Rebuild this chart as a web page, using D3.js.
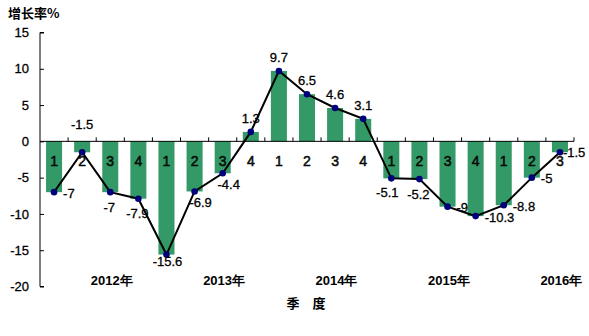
<!DOCTYPE html>
<html>
<head>
<meta charset="utf-8">
<script src="https://cdn.jsdelivr.net/npm/d3@7"></script>
<style>
  html, body { margin: 0; padding: 0; background: #fff; }
  svg { display: block; font-family: "Liberation Sans", Arial, sans-serif; }
  .num { stroke: #000; stroke-width: 0.3px; }
</style>
</head>
<body>
<svg id="chart" width="589" height="336"></svg>
<script>
// Quarterly growth rate (%), 2012 Q1 – 2016 Q3
const years = ["2012年", "2013年", "2014年", "2015年", "2016年"];
const quarters = ["1","2","3","4", "1","2","3","4", "1","2","3","4", "1","2","3","4", "1","2","3"];
const growth = [-7, -1.5, -7, -7.9, -15.6, -6.9, -4.4, 1.3, 9.7, 6.5, 4.6, 3.1, -5.1, -5.2, -9, -10.3, -8.8, -5, -1.5];
const yTicks = [15, 10, 5, 0, -5, -10, -15, -20];
// where each value label sits relative to its point
const labelSide = ["r","top","b","b","bn","br","br","a","a","a","a","a","bl","b","r","r","r","r","rn"];

const svg = d3.select("#chart");
const plotLeft = 40, plotRight = 574, plotTop = 32.5, plotBottom = 286.5;

const x = d3.scaleBand()
  .domain(d3.range(growth.length))
  .range([plotLeft, plotRight])
  .paddingInner(0.43)
  .paddingOuter(0.215);

const y = d3.scaleLinear().domain([-20, 15]).range([plotBottom, plotTop]);

const green = "#339966";
const navy = "#00007a";

// bars
svg.append("g").selectAll("rect")
  .data(growth)
  .join("rect")
  .attr("x", (d, i) => x(i))
  .attr("width", x.bandwidth())
  .attr("y", d => y(Math.max(0, d)))
  .attr("height", d => Math.abs(y(d) - y(0)))
  .attr("fill", green);

// y axis
const yAxis = svg.append("g").attr("transform", `translate(${plotLeft},0)`)
  .call(d3.axisRight(y).tickValues(yTicks).tickSize(4).tickFormat(""));
yAxis.select(".domain").attr("d", `M4,${plotTop}H0V${plotBottom}H4`).attr("stroke", "#000");
yAxis.selectAll(".tick line").attr("stroke", "#000");

svg.append("g").selectAll("text")
  .data(yTicks)
  .join("text")
  .attr("class", "num")
  .attr("x", 29)
  .attr("y", d => y(d))
  .attr("dy", "0.36em")
  .attr("text-anchor", "end")
  .attr("font-size", 13)
  .attr("fill", "#000")
  .text(d => d);

// x axis at zero with boundary ticks pointing up
const step = x.step();
const boundaries = d3.range(growth.length + 1).map(i => plotLeft + i * step);
svg.append("line")
  .attr("x1", plotLeft).attr("x2", plotRight)
  .attr("y1", y(0)).attr("y2", y(0))
  .attr("stroke", "#000");
svg.append("g").selectAll("line")
  .data(boundaries.slice(1))
  .join("line")
  .attr("x1", d => d).attr("x2", d => d)
  .attr("y1", y(0)).attr("y2", y(0) - 4)
  .attr("stroke", "#000");

// quarter numbers
svg.append("g").selectAll("text")
  .data(quarters)
  .join("text")
  .attr("class", "num")
  .attr("x", (d, i) => x(i) + x.bandwidth() / 2)
  .attr("y", y(0) + 20)
  .attr("dy", "0.36em")
  .attr("text-anchor", "middle")
  .attr("font-size", 14)
  .attr("fill", "#111")
  .style("stroke-width", "0.5px")
  .text(d => d);

// year labels
const yearStart = [0, 4, 8, 12, 16];
svg.append("g").selectAll("text")
  .data(years)
  .join("text")
  .attr("x", (d, i) => plotLeft + (yearStart[i] + 2.55) * step)
  .attr("y", 280)
  .attr("dy", "0.36em")
  .attr("text-anchor", "middle")
  .attr("font-size", 13)
  .attr("font-weight", "bold")
  .attr("fill", "#000")
  .text(d => d);

// connecting line
const cx = i => x(i) + x.bandwidth() / 2;
svg.append("path")
  .datum(growth)
  .attr("d", d3.line().x((d, i) => cx(i)).y(d => y(d)))
  .attr("fill", "none")
  .attr("stroke", "#000")
  .attr("stroke-width", 2);

svg.append("g").selectAll("circle")
  .data(growth)
  .join("circle")
  .attr("cx", (d, i) => cx(i))
  .attr("cy", d => y(d))
  .attr("r", 3.3)
  .attr("fill", navy);

// value labels
const place = {
  r:   { dx: 9,  dy: 1,   anchor: "start" },
  rn:  { dx: 3,  dy: 0,   anchor: "start" },
  a:   { dx: 0,  dy: -14, anchor: "middle" },
  b:   { dx: -1, dy: 15,  anchor: "middle" },
  bl:  { dx: -4, dy: 14,  anchor: "middle" },
  bn:  { dx: 1,  dy: 7,   anchor: "middle" },
  br:  { dx: 6,  dy: 11,  anchor: "middle" }
};
svg.append("g").selectAll("text")
  .data(growth)
  .join("text")
  .attr("class", "num")
  .each(function(d, i) {
    const side = labelSide[i];
    const t = d3.select(this);
    if (side === "top") {
      t.attr("x", cx(i)).attr("y", y(0) - 17).attr("text-anchor", "middle");
    } else {
      const p = place[side];
      t.attr("x", cx(i) + p.dx).attr("y", y(d) + p.dy).attr("text-anchor", p.anchor);
    }
  })
  .attr("dy", "0.36em")
  .attr("font-size", 13)
  .attr("fill", "#000")
  .text(d => d);

// axis titles
svg.append("text")
  .attr("x", 8).attr("y", 13)
  .attr("dy", "0.36em")
  .attr("font-size", 13)
  .attr("font-weight", "bold")
  .attr("font-family", "'Noto Sans CJK SC', sans-serif")
  .text("增长率%");

svg.append("g")
  .attr("font-size", 13)
  .attr("font-weight", "bold")
  .attr("font-family", "'Noto Sans CJK SC', sans-serif")
  .selectAll("text")
  .data([["季", 293], ["度", 319]])
  .join("text")
  .attr("x", d => d[1]).attr("y", 303)
  .attr("dy", "0.36em")
  .attr("text-anchor", "middle")
  .text(d => d[0]);
</script>
</body>
</html>
